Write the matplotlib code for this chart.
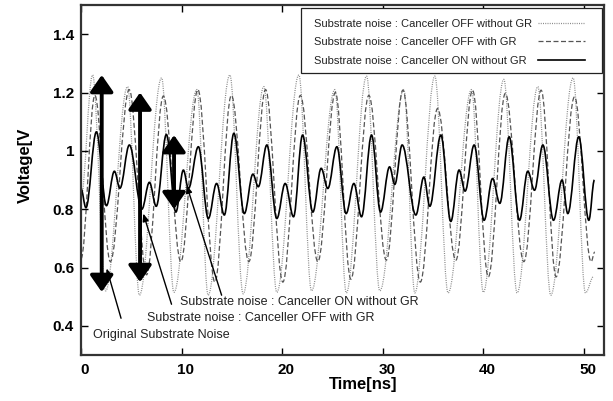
import matplotlib
matplotlib.use('Agg')
import matplotlib.pyplot as plt
from matplotlib.path import Path
from matplotlib.patches import PathPatch, FancyArrowPatch, Rectangle
from matplotlib.lines import Line2D
import matplotlib.transforms as mtrans

plt.rcParams['font.family'] = ['Liberation Sans', 'DejaVu Sans']

# ---- data: extrema of each waveform (time ns, voltage V)
off_nogr_t = [0.00, 1.15, 2.45, 4.63, 5.81, 8.01, 9.24, 11.52, 12.64, 14.80, 16.12,
              18.18, 19.47, 21.66, 22.92, 25.24, 26.38, 28.39, 29.71, 32.10, 33.19,
              35.18, 36.50, 38.83, 40.00, 42.04, 43.36, 45.42, 46.71, 48.93, 50.16, 50.98]
off_nogr_v = [0.84, 1.26, 0.52, 1.22, 0.505, 1.25, 0.515, 1.21, 0.505, 1.26, 0.51,
              1.22, 0.515, 1.26, 0.52, 1.21, 0.513, 1.256, 0.52, 1.21, 0.513,
              1.256, 0.513, 1.21, 0.515, 1.245, 0.513, 1.22, 0.505, 1.25, 0.513, 0.57]

off_gr_t = [0.00, 1.38, 2.92, 4.79, 6.52, 8.19, 9.93, 11.62, 13.31, 14.95, 16.69,
            18.35, 20.07, 21.81, 23.55, 25.29, 26.83, 28.62, 30.36, 32.00, 33.74,
            35.45, 37.27, 38.93, 40.50, 42.19, 44.03, 45.75, 47.24, 49.07, 50.72, 51.08]
off_gr_v = [0.63, 1.19, 0.62, 1.21, 0.575, 1.188, 0.62, 1.21, 0.55, 1.19, 0.62,
            1.21, 0.55, 1.19, 0.62, 1.20, 0.56, 1.19, 0.625, 1.208, 0.55,
            1.145, 0.625, 1.208, 0.568, 1.197, 0.62, 1.208, 0.568, 1.185, 0.62, 0.653]

on_nogr_t = [0.00, 0.49, 1.53, 2.53, 3.32, 3.87, 4.81, 6.05, 6.80, 7.48,
             8.49, 9.43, 10.18, 10.68, 11.67, 12.66, 13.48, 14.25,
             15.20, 16.24, 17.09, 17.63, 18.48, 19.47, 20.30, 21.13,
             22.03, 23.05, 23.88, 24.54, 25.44, 26.36, 27.13, 27.89,
             28.89, 29.78, 30.68, 31.20, 31.93, 33.29, 34.09, 34.68,
             35.78, 36.77, 37.59, 38.19, 39.09, 40.08, 40.92, 41.64,
             42.57, 43.60, 44.42, 45.09, 45.92, 46.98, 47.83, 48.40,
             49.49, 50.49, 51.05]
on_nogr_v = [0.87, 0.805, 1.065, 0.812, 0.93, 0.872, 1.02, 0.80, 0.892, 0.81,
             1.056, 0.79, 0.934, 0.871, 1.014, 0.768, 0.888, 0.78,
             1.06, 0.785, 0.92, 0.877, 1.02, 0.768, 0.888, 0.774,
             1.054, 0.79, 0.94, 0.871, 1.014, 0.785, 0.888, 0.774,
             1.054, 0.79, 0.945, 0.885, 1.02, 0.78, 0.91, 0.81,
             1.054, 0.758, 0.934, 0.862, 1.02, 0.762, 0.905, 0.82,
             1.048, 0.762, 0.93, 0.865, 1.02, 0.762, 0.9, 0.785,
             1.048, 0.762, 0.90]

series_labels = ['Substrate noise : Canceller OFF without GR',
                 'Substrate noise : Canceller OFF with GR',
                 'Substrate noise : Canceller ON without GR']

x_ticks = [0, 10, 20, 30, 40, 50]
y_ticks = [0.4, 0.6, 0.8, 1.0, 1.2, 1.4]
y_ticklabels = ['0.4', '0.6', '0.8', '1', '1.2', '1.4']

# thick double arrows: (time, low, high)
big_arrows = [(2.06, 0.516, 1.26), (5.87, 0.55, 1.20), (9.25, 0.80, 1.054)]
# annotations: text, text position, arrow tail, arrow tip
notes = [('Original Substrate Noise', (1.22, 0.370), (3.98, 0.426), (2.55, 0.597)),
         ('Substrate noise : Canceller OFF with GR', (6.52, 0.428), (9.00, 0.474), (6.19, 0.785)),
         ('Substrate noise : Canceller ON without GR', (9.84, 0.482), (13.98, 0.505), (10.50, 0.882))]

W, H = 613, 401
fig = plt.figure(figsize=(W/100, H/100), dpi=100)
ax = fig.add_axes([81/W, 1-355/H, 523/W, 350/H])


def smooth_path(t, v, c=0.3642):
    verts = [(t[0], v[0])]
    codes = [Path.MOVETO]
    for i in range(len(t)-1):
        dt = t[i+1]-t[i]
        verts += [(t[i]+c*dt, v[i]), (t[i+1]-c*dt, v[i+1]), (t[i+1], v[i+1])]
        codes += [Path.CURVE4]*3
    return Path(verts, codes)

styles = [dict(color='#8a8a8a', lw=0.9, linestyle=(0, (0.8, 1.0))),
          dict(color='#555555', lw=0.9, linestyle=(0, (4.0, 2.0))),
          dict(color='black', lw=1.2, linestyle='-')]
data = [(off_nogr_t, off_nogr_v), (off_gr_t, off_gr_v), (on_nogr_t, on_nogr_v)]
for (t, v), st in zip(data, styles):
    ax.add_patch(PathPatch(smooth_path(t, v), fill=False, edgecolor=st['color'],
                           lw=st['lw'], linestyle=st['linestyle'], capstyle='butt'))

for (t, lo, hi) in big_arrows:
    ax.add_patch(FancyArrowPatch((t, lo), (t, hi),
                 arrowstyle='<|-|>,head_length=0.72,head_width=0.5',
                 mutation_scale=14, lw=2.8, color='black', shrinkA=0, shrinkB=0,
                 zorder=5))

for txt, tp, tail, tip in notes:
    ax.add_patch(FancyArrowPatch(tail, tip, arrowstyle='-|>,head_length=0.45,head_width=0.18',
                 mutation_scale=10, lw=1.0, color='black', shrinkA=0, shrinkB=0, zorder=5))
    ax.text(tp[0], tp[1], txt, fontsize=9, ha='left', va='center', color='#222222')

ax.set_xlim(0, 52)
ax.set_ylim(0.3, 1.5)
ax.set_xticks(x_ticks)
ax.set_yticks(y_ticks)
ax.set_yticklabels(y_ticklabels)
ax.tick_params(direction='in', length=5, width=1, top=True, right=True,
               labelsize=11)
ax.tick_params(axis='x', pad=6)
ax.tick_params(axis='y', pad=5)
for lab in ax.get_xticklabels() + ax.get_yticklabels():
    lab.set_fontweight('bold')
off = mtrans.ScaledTranslation(4/100, 0, fig.dpi_scale_trans)
for lab in ax.get_xticklabels():
    lab.set_transform(lab.get_transform() + off)
for s in ax.spines.values():
    s.set_linewidth(1.6)
    s.set_color('#333333')

fig.text(363/W, 1-385/H, 'Time[ns]', fontsize=12, fontweight='bold', ha='center', va='center')
fig.text(25/W, 1-165/H, 'Voltage[V', fontsize=12, fontweight='bold', ha='center', va='center',
         rotation=90)

# legend box drawn in figure pixel layout (text left, line sample right)
def fx(px):
    return px / W

def fy(py):
    return 1 - py / H

fig.patches.append(Rectangle((fx(301), fy(72.7)), fx(602) - fx(301), fy(8.3) - fy(72.7),
                             transform=fig.transFigure, facecolor='white',
                             edgecolor='#222222', lw=0.9, zorder=10))
row_y = [24.0, 42.3, 60.7]
for lbl, st, ry in zip(series_labels, styles, row_y):
    fig.text(fx(314), fy(ry), lbl, fontsize=8, ha='left', va='center', color='#222222',
             zorder=11)
    fig.lines.append(Line2D([fx(538), fx(585)], [fy(ry - 1), fy(ry - 1)],
                            transform=fig.transFigure, color=st['color'], lw=st['lw'],
                            linestyle=st['linestyle'], zorder=11))

fig.savefig('out.png', dpi=100)
